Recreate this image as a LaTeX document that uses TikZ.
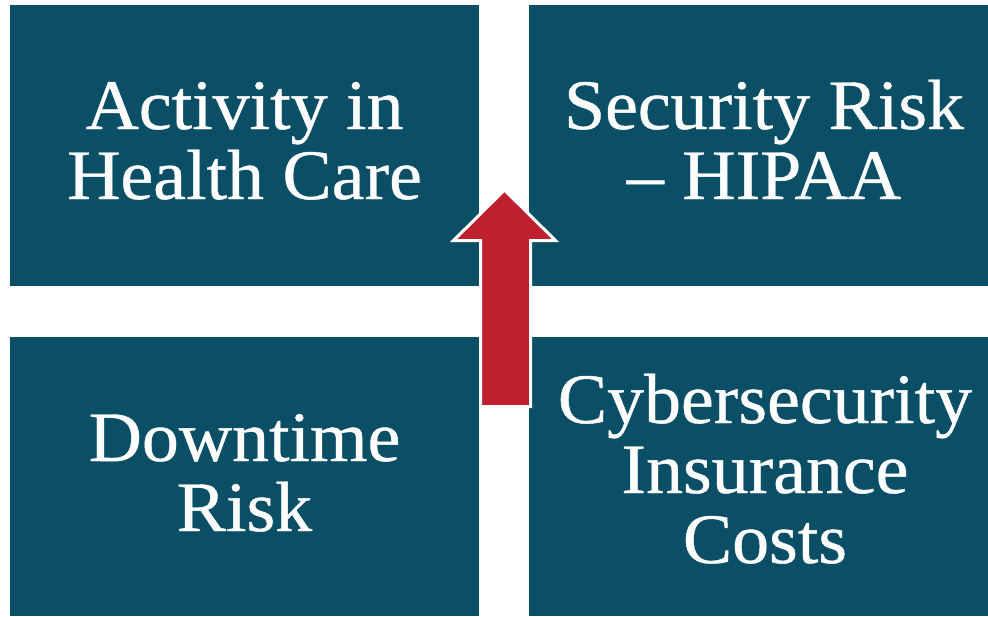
\documentclass[tikz,border=0pt]{standalone}
\usepackage{fontspec}
\setmainfont[FakeBold=0.6,FakeStretch=1.04]{Liberation Serif}
\definecolor{teal}{RGB}{10,79,101}
\definecolor{arrowred}{RGB}{190,32,46}
\begin{document}
\begin{tikzpicture}[x=1pt,y=-1pt,
  box/.style={fill=teal,draw=none},
  label/.style={text=white,align=center,anchor=base,inner sep=0pt,
    font=\fontsize{71}{70}\selectfont}]
\fill[white] (0,0) rectangle (988,616);
\useasboundingbox (0,0) rectangle (988,616);
\path[box] (10,5) rectangle (479,286);
\path[box] (529,5) rectangle (988,286);
\path[box] (10,337) rectangle (479,616);
\path[box] (529,337) rectangle (988,616);
\node[label] (tl) at (244.5,199) {Activity in\\Health Care};
\node[label] (tr) at (764,199) {Security Risk\\– HIPAA};
\node[label] (bl) at (244.5,531) {Downtime\\Risk};
\node[label] (br) at (765,563) {Cybersecurity\\Insurance\\Costs};
\draw[fill=arrowred,draw=white,line width=3pt,miter limit=10]
  (504.5,190) -- (555.5,240.5) -- (530.5,240.5) -- (530.5,406.5)
  -- (480.5,406.5) -- (480.5,240.5) -- (453.5,240.5) -- cycle;
\end{tikzpicture}
\end{document}
